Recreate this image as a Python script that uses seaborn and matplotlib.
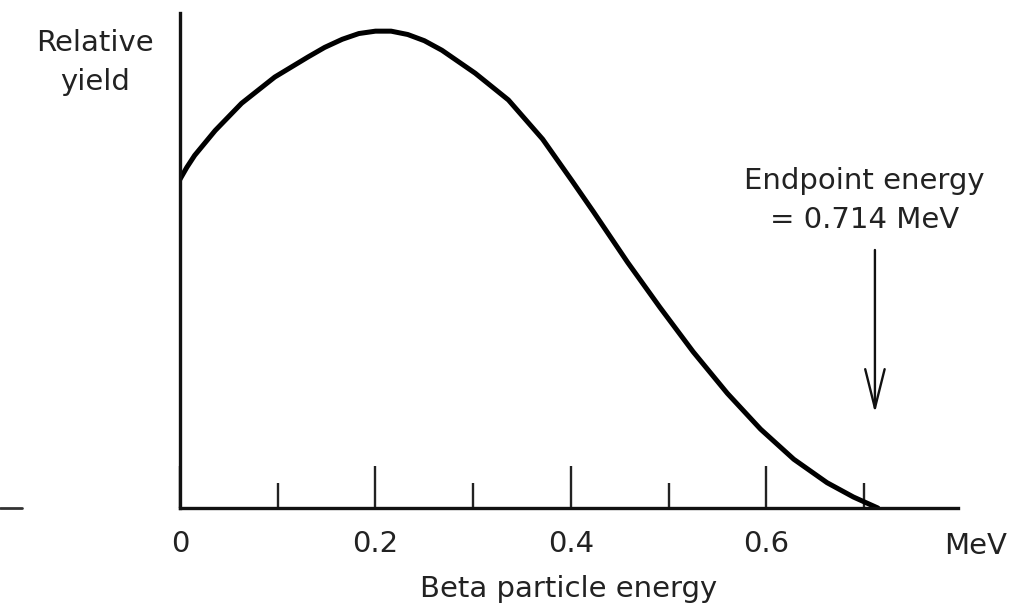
import matplotlib
matplotlib.use("Agg")
import matplotlib.pyplot as plt
import seaborn as sns
import pandas as pd
from matplotlib.ticker import FixedLocator
from matplotlib.lines import Line2D

# ---- data ----
energy_mev = [0.000, 0.007, 0.015, 0.036, 0.063, 0.097, 0.131, 0.148, 0.166, 0.183,
              0.200, 0.216, 0.233, 0.250, 0.268, 0.302, 0.336, 0.371, 0.401, 0.423,
              0.458, 0.491, 0.525, 0.560, 0.594, 0.628, 0.662, 0.689, 0.714]
relative_yield = [0.688, 0.713, 0.738, 0.790, 0.847, 0.902, 0.944, 0.964, 0.981, 0.993,
                  0.998, 0.998, 0.991, 0.978, 0.958, 0.910, 0.854, 0.772, 0.685, 0.620,
                  0.514, 0.420, 0.327, 0.240, 0.165, 0.102, 0.053, 0.023, 0.0]
major_ticks = [0.0, 0.2, 0.4, 0.6]
major_labels = ["0", "0.2", "0.4", "0.6"]
minor_ticks = [0.1, 0.3, 0.5, 0.7]
endpoint = 0.714

sns.set_theme(style="white")
plt.rcParams['font.family'] = ['DejaVu Sans']

df = pd.DataFrame({"energy": energy_mev, "yield": relative_yield})

W, H = 1026, 611
FS = 21
TXT = "#222222"
fig = plt.figure(figsize=(W / 100, H / 100), dpi=100)
ax = fig.add_axes([180 / W, 1 - 508 / H, (958 - 180) / W, (508 - 13) / H])

sns.lineplot(data=df, x="energy", y="yield", ax=ax, color="black", linewidth=3.6)

ax.set_xlim(0, 0.796)
ax.set_ylim(0, 1.036)

for s in ["top", "right"]:
    ax.spines[s].set_visible(False)
for s in ["left", "bottom"]:
    ax.spines[s].set_linewidth(2.4)
    ax.spines[s].set_color("#111111")

ax.set_yticks([])
ax.xaxis.set_major_locator(FixedLocator(major_ticks))
ax.set_xticklabels(major_labels)
ax.xaxis.set_minor_locator(FixedLocator(minor_ticks))
ax.tick_params(axis="x", which="major", direction="in", length=30, width=1.7,
               color="#222222", labelsize=FS, pad=16, labelcolor=TXT, bottom=True)
ax.tick_params(axis="x", which="minor", direction="in", length=18, width=1.7,
               color="#222222", bottom=True)
ax.set_xlabel("Beta particle energy", fontsize=FS, color=TXT, labelpad=12)
ax.set_ylabel("")

# axis unit label
ax.text(0.814, -0.050, "MeV", fontsize=FS, color=TXT, ha="center", va="top",
        clip_on=False)

# y label
ax.text(-0.087, 0.933, "Relative\nyield", fontsize=FS, color=TXT, ha="center",
        va="center", linespacing=1.5, clip_on=False)

# endpoint annotation
ax.text(0.700, 0.644, "Endpoint energy\n= 0.714 MeV", fontsize=FS,
        color=TXT, ha="center", va="center", linespacing=1.5)
ax.annotate("", xy=(endpoint - 0.003, 0.199), xytext=(endpoint - 0.003, 0.54),
            arrowprops=dict(arrowstyle="->,head_length=2.8,head_width=0.7",
                            mutation_scale=10, color="#111111", lw=1.7,
                            shrinkA=0, shrinkB=0))

# stray dash at the left edge
fig.add_artist(Line2D([0 / W, 22 / W], [1 - 508 / H, 1 - 508 / H],
                      color="#333333", linewidth=2.0))

fig.savefig("out.png", dpi=100, facecolor="white")
